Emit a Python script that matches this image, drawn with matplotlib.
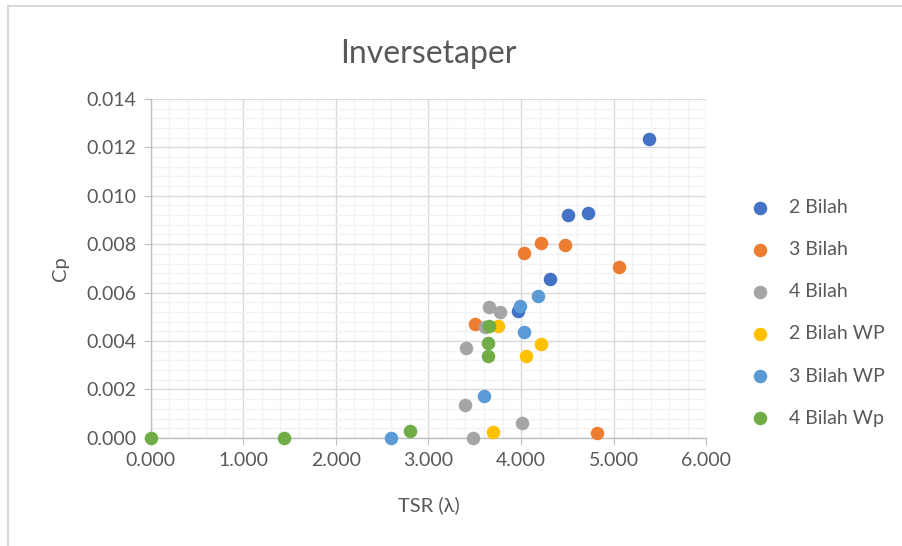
import matplotlib.pyplot as plt
from matplotlib.lines import Line2D
from matplotlib.ticker import MultipleLocator, FormatStrFormatter

plt.rcParams['font.family'] = ['Lato', 'DejaVu Sans']

# data (TSR, Cp)
labels = ["2 Bilah", "3 Bilah", "4 Bilah", "2 Bilah WP", "3 Bilah WP", "4 Bilah Wp"]
colors = ["#4472C4", "#ED7D31", "#A5A5A5", "#FFC000", "#5B9BD5", "#70AD47"]

tsr_2b = [5.38, 4.51, 4.72, 4.31, 3.97]
cp_2b = [0.01236, 0.00921, 0.00930, 0.00657, 0.00522]

tsr_3b = [4.03, 4.21, 4.47, 5.06, 3.50, 4.82]
cp_3b = [0.00764, 0.00806, 0.00798, 0.00707, 0.00470, 0.00020]

tsr_4b = [3.65, 3.77, 3.61, 3.41, 3.39, 4.01, 3.48]
cp_4b = [0.00540, 0.00518, 0.00456, 0.00373, 0.00134, 0.00061, 0.0]

tsr_2wp = [3.75, 4.21, 4.05, 3.70]
cp_2wp = [0.00460, 0.00388, 0.00340, 0.00024]

tsr_3wp = [3.99, 4.18, 4.03, 3.60, 2.60]
cp_3wp = [0.00543, 0.00587, 0.00437, 0.00175, 0.0]

tsr_4wp = [3.65, 3.64, 3.64, 2.80, 1.44, 0.0]
cp_4wp = [0.00460, 0.00391, 0.00339, 0.00027, 0.0, 0.0]

series = [(tsr_2b, cp_2b), (tsr_3b, cp_3b), (tsr_4b, cp_4b),
          (tsr_2wp, cp_2wp), (tsr_3wp, cp_3wp), (tsr_4wp, cp_4wp)]

txt = "#595959"

fig = plt.figure(figsize=(9.02, 5.46), dpi=100)
ax = fig.add_axes([0.167, 0.198, 0.616, 0.621])

for (x, y), c, lab in zip(series, colors, labels):
    ax.scatter(x, y, s=95, color=c, label=lab, zorder=3, linewidths=0, clip_on=False)

ax.set_xlim(0, 6)
ax.set_ylim(0, 0.014)
ax.xaxis.set_major_locator(MultipleLocator(1))
ax.xaxis.set_minor_locator(MultipleLocator(0.2))
ax.yaxis.set_major_locator(MultipleLocator(0.002))
ax.yaxis.set_minor_locator(MultipleLocator(0.0004))
ax.xaxis.set_major_formatter(FormatStrFormatter('%.3f'))
ax.yaxis.set_major_formatter(FormatStrFormatter('%.3f'))

ax.grid(which='minor', color='#f2f2f2', linewidth=1.0, zorder=0)
ax.grid(which='major', color='#d9d9d9', linewidth=1.0, zorder=1)
ax.set_axisbelow(True)

for side in ['top', 'right']:
    ax.spines[side].set_visible(False)
for side in ['left', 'bottom']:
    ax.spines[side].set_color('#bfbfbf')
    ax.spines[side].set_linewidth(1.0)

ax.tick_params(which='major', length=5, color='#bfbfbf', labelcolor=txt, labelsize=14, pad=5)
ax.tick_params(which='minor', length=0)

ax.set_title("Inversetaper", fontsize=23, color=txt, pad=26)
ax.set_xlabel("TSR (λ)", fontsize=14.5, color=txt, labelpad=20)
ax.set_ylabel("Cp", fontsize=14.5, color=txt, labelpad=13)

leg = ax.legend(loc='upper left', bbox_to_anchor=(1.061, 0.727), frameon=False,
                fontsize=14, labelcolor=txt, handletextpad=0.9, handlelength=1.2,
                labelspacing=1.29, markerscale=1.0, borderaxespad=0)

# chart area border (left and top edges visible in the crop)
fig.add_artist(Line2D([0.009, 0.009], [0, 0.989], color='#d9d9d9', linewidth=1.5))
fig.add_artist(Line2D([0.009, 1.0], [0.989, 0.989], color='#d9d9d9', linewidth=1.5))

plt.savefig("out.png", dpi=100)
